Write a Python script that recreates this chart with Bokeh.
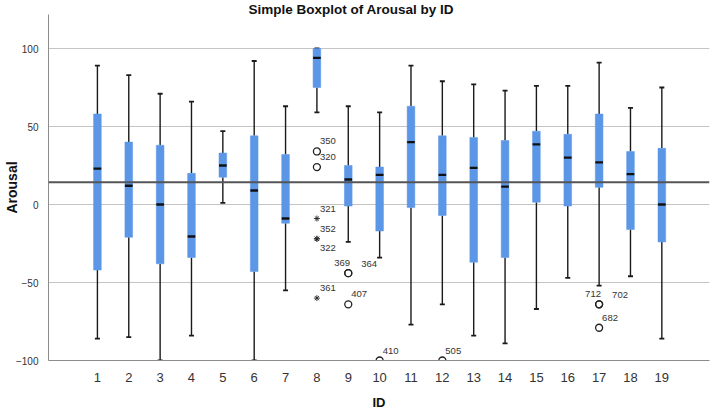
import numpy as np
from bokeh.plotting import figure
from bokeh.models import ColumnDataSource, FixedTicker, Range1d, Span
from bokeh.core.properties import value
from bokeh.embed import file_html
from bokeh.resources import INLINE

# ---------------- data ----------------
ids = list(range(1, 20))
q1 = [-42, -21, -38, -34, 17.5, -43, -12, 75, -1, -17, -2, -7, -37, -34, 1.5, -1, 11, -16, -24]
median = [23, 12, 0, -20.5, 25, 9, -9, 94, 16, 19, 40, 19, 23.5, 11.5, 38.5, 30, 27, 19.5, 0]
q3 = [58, 40, 38, 20, 33, 44, 32, 100, 25, 24, 63, 44, 43, 41, 47, 45, 58, 34, 36]
whisk_lo = [-86, -85, -100, -84, 1, -100, -55, 59, -24, -34, -77, -64, -84, -89, -67, -47, -52, -46, -86]
whisk_hi = [89, 83, 71, 66, 47, 92, 63, 100, 63, 59, 89, 79, 77, 73, 76, 76, 91, 62, 75]

out_id = [8, 8, 8, 8, 8, 8, 9, 9, 9, 10, 12, 17, 17, 17]
out_val = [34, 24, -9, -22, -22, -60, -44, -44, -64, -100, -100, -64, -64, -79]
out_case = ["350", "320", "321", "352", "322", "361", "369", "364", "407", "410", "505", "712", "702", "682"]
out_extreme = [False, False, True, True, True, True, False, False, False, False, False, False, False, False]
out_place = ["ur", "ur", "ur", "ur", "lr", "ur", "ul", "r2", "ur", "ur", "ur", "ul", "r2", "ur"]

ref_value = 14.3
y_ticks = [-100, -50, 0, 50, 100]
title_text = "Simple Boxplot of Arousal by ID"
x_title = "ID"
y_title = "Arousal"

# ---------------- styles ----------------
FONT = "Liberation Sans"
BOX_COLOR = "#5b97e6"
place_offsets = {"ur": (3, -10), "lr": (3, 9), "ul": (-14, -10), "r2": (13, -9)}

p = figure(width=714, height=412, output_backend="svg", toolbar_location=None,
           x_range=Range1d(-0.56, 20.52), y_range=Range1d(-100, 121.8),
           min_border_left=47, min_border_right=5, min_border_top=14, min_border_bottom=52,
           title=title_text, x_axis_label=x_title, y_axis_label=y_title)
p.outline_line_color = None
p.background_fill_color = "white"
p.border_fill_color = "white"

# title
p.title.text_font = FONT
p.title.text_font_size = "13.5px"
p.title.text_font_style = "bold"
p.title.text_color = "#111111"
p.title.align = "left"
p.title.offset = 200
p.title.standoff = -4

# grid
p.xgrid.visible = False
p.ygrid.ticker = FixedTicker(ticks=y_ticks)
p.ygrid.grid_line_color = "#c4c4c4"
p.ygrid.grid_line_width = 1

# axes
p.yaxis.ticker = FixedTicker(ticks=y_ticks)
p.xaxis.ticker = FixedTicker(ticks=ids)
for ax in (p.xaxis, p.yaxis):
    ax.major_tick_line_color = None
    ax.minor_tick_line_color = None
    ax.axis_line_color = "#8c8c8c"
    ax.major_label_text_font = FONT
    ax.major_label_text_color = "#333333"
    ax.axis_label_text_font = FONT
    ax.axis_label_text_font_style = "bold"
    ax.axis_label_text_color = "#111111"
p.yaxis.major_label_text_font_size = "10px"
p.yaxis.major_label_standoff = 4
p.yaxis.axis_label_text_font_size = "14px"
p.yaxis.axis_label_standoff = -7
p.xaxis.major_label_text_font_size = "13px"
p.xaxis.major_label_standoff = 6
p.xaxis.axis_label_text_font_size = "13px"
p.xaxis.axis_label_standoff = 10

src = ColumnDataSource(dict(x=ids, q1=q1, med=median, q3=q3, lo=whisk_lo, hi=whisk_hi))

# whiskers
p.segment(x0="x", y0="q3", x1="x", y1="hi", source=src, line_color="#1a1a1a", line_width=1.4)
p.segment(x0="x", y0="q1", x1="x", y1="lo", source=src, line_color="#1a1a1a", line_width=1.4)
p.scatter(x="x", y="hi", source=src, marker="dash", size=5, line_color="#1a1a1a", line_width=1.8)
p.scatter(x="x", y="lo", source=src, marker="dash", size=5, line_color="#1a1a1a", line_width=1.8)

# boxes
p.vbar(x="x", width=0.245, top="q3", bottom="q1", source=src, fill_color=BOX_COLOR,
       line_color=BOX_COLOR, line_width=0.5)
# medians
p.rect(x="x", y="med", width=0.245, height=1.5, source=src, fill_color="#111111", line_color=None)

# reference line
p.add_layout(Span(location=ref_value, dimension="width", line_color="#555555", line_width=2))

# outliers
circ_x = [i for i, e in zip(out_id, out_extreme) if not e]
circ_y = [v for v, e in zip(out_val, out_extreme) if not e]
star_x = [i for i, e in zip(out_id, out_extreme) if e]
star_y = [v for v, e in zip(out_val, out_extreme) if e]
p.scatter(circ_x, circ_y, marker="circle", size=7, fill_color=None, line_color="#222222", line_width=1.3)
p.scatter(star_x, star_y, marker="asterisk", size=6, line_color="#222222", line_width=0.9)

lab_src = ColumnDataSource(dict(
    x=out_id, y=out_val, t=out_case,
    xo=[place_offsets[k][0] for k in out_place],
    yo=[place_offsets[k][1] for k in out_place],
))
p.text(x="x", y="y", text="t", x_offset="xo", y_offset="yo", source=lab_src,
       text_font=value(FONT), text_font_size="9.5px", text_color="#333333",
       text_align="left", text_baseline="middle")

open("out.html", "w").write(file_html(p, INLINE))
